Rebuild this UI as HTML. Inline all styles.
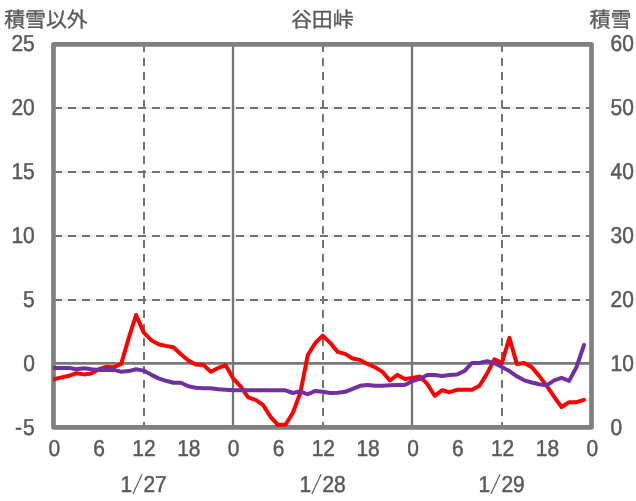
<!DOCTYPE html>
<html><head><meta charset="utf-8"><title>谷田峠</title>
<style>html,body{margin:0;padding:0;background:#fff}body{width:636px;height:501px;overflow:hidden}svg{display:block;will-change:transform}text{font-family:"Liberation Sans",sans-serif;font-size:22.3px;fill:#595959;stroke:#595959;stroke-width:0.45px;text-rendering:geometricPrecision}</style></head><body>
<svg width="636" height="501" viewBox="0 0 636 501">
<rect width="636" height="501" fill="#fff"/>
<line x1="54" x2="591" y1="108.15" y2="108.15" stroke="#c6c6c6" stroke-width="0.6"/>
<line x1="54" x2="591" y1="172.15" y2="172.15" stroke="#c6c6c6" stroke-width="0.6"/>
<line x1="54" x2="591" y1="236.15" y2="236.15" stroke="#c6c6c6" stroke-width="0.6"/>
<line x1="54" x2="591" y1="300.15" y2="300.15" stroke="#c6c6c6" stroke-width="0.6"/>
<line x1="54" x2="591" y1="108" y2="108" stroke="#727272" stroke-width="2" stroke-dasharray="8 6"/>
<line x1="54" x2="591" y1="172" y2="172" stroke="#727272" stroke-width="2" stroke-dasharray="8 6"/>
<line x1="54" x2="591" y1="236" y2="236" stroke="#727272" stroke-width="2" stroke-dasharray="8 6"/>
<line x1="54" x2="591" y1="300" y2="300" stroke="#727272" stroke-width="2" stroke-dasharray="8 6"/>
<line x1="144" x2="144" y1="44" y2="427" stroke="#727272" stroke-width="2" stroke-dasharray="8 6"/>
<line x1="323" x2="323" y1="44" y2="427" stroke="#727272" stroke-width="2" stroke-dasharray="8 6"/>
<line x1="502" x2="502" y1="44" y2="427" stroke="#727272" stroke-width="2" stroke-dasharray="8 6"/>
<line x1="233" x2="233" y1="44" y2="427" stroke="#757575" stroke-width="2.3"/>
<line x1="412" x2="412" y1="44" y2="427" stroke="#757575" stroke-width="2.3"/>
<line x1="54" x2="591" y1="363.4" y2="363.4" stroke="#787878" stroke-width="2.6"/>
<rect x="53.5" y="44.3" width="538.0" height="383.09999999999997" fill="none" stroke="#808080" stroke-width="4.7" stroke-linejoin="round"/>
<clipPath id="c"><rect x="53" y="40" width="540" height="392"/></clipPath><g clip-path="url(#c)">
<polyline fill="none" stroke="#ff0000" stroke-width="4" stroke-linejoin="round" stroke-linecap="round" points="54.0,379.2 61.5,377.4 68.9,375.8 76.4,373.2 83.9,374.4 91.3,373.5 98.8,369.2 106.3,366.9 113.7,367.3 121.2,363.9 128.7,338.1 136.1,315.0 143.6,332.4 151.0,339.9 158.5,344.3 166.0,345.9 173.4,347.3 180.9,354.2 188.4,360.6 195.8,364.6 203.3,364.9 210.8,371.8 218.2,367.9 225.7,365.3 233.2,378.5 240.6,386.3 248.1,397.3 255.6,399.9 263.0,404.9 270.5,416.8 277.9,424.8 285.4,424.8 292.9,412.8 300.3,392.9 307.8,355.0 315.3,343.0 322.7,335.7 330.2,342.9 337.7,351.9 345.1,353.9 352.6,358.5 360.1,359.9 367.5,363.9 375.0,367.3 382.5,371.9 389.9,380.5 397.4,374.9 404.9,378.9 412.3,377.9 419.8,376.5 427.2,383.9 434.7,395.8 442.2,390.2 449.6,392.2 457.1,389.8 464.6,389.8 472.0,389.8 479.5,385.8 487.0,373.6 494.4,359.4 501.9,362.9 509.4,337.9 516.8,363.9 524.3,362.9 531.8,367.3 539.2,375.9 546.7,385.9 554.2,396.8 561.6,407.0 569.1,402.2 576.5,402.2 584.0,399.8"/>
<polyline fill="none" stroke="#7030a0" stroke-width="4" stroke-linejoin="round" stroke-linecap="round" points="54.0,367.9 61.5,367.9 68.9,367.9 76.4,369.3 83.9,368.2 91.3,369.3 98.8,369.9 106.3,369.9 113.7,369.9 121.2,371.8 128.7,371.1 136.1,369.3 143.6,370.6 151.0,374.6 158.5,378.4 166.0,380.8 173.4,382.8 180.9,382.8 188.4,386.3 195.8,387.7 203.3,388.2 210.8,388.2 218.2,389.2 225.7,389.8 233.2,390.3 240.6,390.3 248.1,390.3 255.6,390.3 263.0,390.3 270.5,390.3 277.9,390.3 285.4,390.3 292.9,393.0 300.3,391.3 307.8,394.3 315.3,390.9 322.7,391.8 330.2,393.0 337.7,392.8 345.1,391.8 352.6,388.8 360.1,385.8 367.5,384.9 375.0,385.8 382.5,385.8 389.9,385.2 397.4,384.9 404.9,384.9 412.3,381.2 419.8,378.9 427.2,374.9 434.7,374.9 442.2,375.9 449.6,374.9 457.1,374.5 464.6,370.9 472.0,362.9 479.5,362.9 487.0,361.3 494.4,362.9 501.9,366.9 509.4,371.1 516.8,376.3 524.3,380.3 531.8,382.5 539.2,384.3 546.7,385.3 554.2,380.3 561.6,377.9 569.1,380.9 576.5,367.1 584.0,345.0"/>
</g>
<text x="4.2" y="27.3" style="font-family:'Liberation Sans','Noto Sans CJK JP',sans-serif;font-size:20.9px;stroke-width:0.33px" text-anchor="start">積雪以外</text>
<text x="290.9" y="27.3" style="font-family:'Liberation Sans','Noto Sans CJK JP',sans-serif;font-size:20.9px;stroke-width:0.33px" text-anchor="start">谷田峠</text>
<text x="589.4" y="27.3" style="font-family:'Liberation Sans','Noto Sans CJK JP',sans-serif;font-size:21px;stroke-width:0.33px" text-anchor="start">積雪</text>
<text transform="translate(34.70 51.15) scale(0.94 1.035)" text-anchor="end">25</text>
<text transform="translate(34.70 115.15) scale(0.94 1.035)" text-anchor="end">20</text>
<text transform="translate(34.70 179.15) scale(0.94 1.035)" text-anchor="end">15</text>
<text transform="translate(34.70 243.15) scale(0.94 1.035)" text-anchor="end">10</text>
<text transform="translate(34.70 307.15) scale(0.94 1.035)" text-anchor="end">5</text>
<text transform="translate(35.00 371.15) scale(0.94 1.035)" text-anchor="end">0</text>
<text transform="translate(34.70 435.15) scale(0.94 1.035)" text-anchor="end">5</text>
<text transform="translate(15.00 435.15) scale(0.94 1.035)" text-anchor="start">-</text>
<text transform="translate(610.50 51.15) scale(0.94 1.035)" text-anchor="start">60</text>
<text transform="translate(610.50 115.15) scale(0.94 1.035)" text-anchor="start">50</text>
<text transform="translate(610.50 179.15) scale(0.94 1.035)" text-anchor="start">40</text>
<text transform="translate(610.50 243.15) scale(0.94 1.035)" text-anchor="start">30</text>
<text transform="translate(610.50 307.15) scale(0.94 1.035)" text-anchor="start">20</text>
<text transform="translate(610.50 371.15) scale(0.94 1.035)" text-anchor="start">10</text>
<text transform="translate(610.50 435.15) scale(0.94 1.035)" text-anchor="start">0</text>
<text transform="translate(54.30 456.00) scale(0.94 1.035)" text-anchor="middle">0</text>
<text transform="translate(99.13 456.00) scale(0.94 1.035)" text-anchor="middle">6</text>
<text transform="translate(143.96 456.00) scale(0.94 1.035)" text-anchor="middle">12</text>
<text transform="translate(188.80 456.00) scale(0.94 1.035)" text-anchor="middle">18</text>
<text transform="translate(233.63 456.00) scale(0.94 1.035)" text-anchor="middle">0</text>
<text transform="translate(278.46 456.00) scale(0.94 1.035)" text-anchor="middle">6</text>
<text transform="translate(323.29 456.00) scale(0.94 1.035)" text-anchor="middle">12</text>
<text transform="translate(368.12 456.00) scale(0.94 1.035)" text-anchor="middle">18</text>
<text transform="translate(412.96 456.00) scale(0.94 1.035)" text-anchor="middle">0</text>
<text transform="translate(457.79 456.00) scale(0.94 1.035)" text-anchor="middle">6</text>
<text transform="translate(502.62 456.00) scale(0.94 1.035)" text-anchor="middle">12</text>
<text transform="translate(547.45 456.00) scale(0.94 1.035)" text-anchor="middle">18</text>
<text transform="translate(592.28 456.00) scale(0.94 1.035)" text-anchor="middle">0</text>
<text transform="translate(120.40 492.20) scale(0.94 1.035)" text-anchor="start">1</text>
<line x1="132.9" y1="494" x2="142.1" y2="474.2" stroke="#595959" stroke-width="1.15"/>
<text transform="translate(143.40 492.20) scale(0.94 1.035)" text-anchor="start">27</text>
<text transform="translate(299.40 492.20) scale(0.94 1.035)" text-anchor="start">1</text>
<line x1="311.9" y1="494" x2="321.1" y2="474.2" stroke="#595959" stroke-width="1.15"/>
<text transform="translate(322.40 492.20) scale(0.94 1.035)" text-anchor="start">28</text>
<text transform="translate(478.40 492.20) scale(0.94 1.035)" text-anchor="start">1</text>
<line x1="490.9" y1="494" x2="500.1" y2="474.2" stroke="#595959" stroke-width="1.15"/>
<text transform="translate(501.40 492.20) scale(0.94 1.035)" text-anchor="start">29</text>
</svg></body></html>
